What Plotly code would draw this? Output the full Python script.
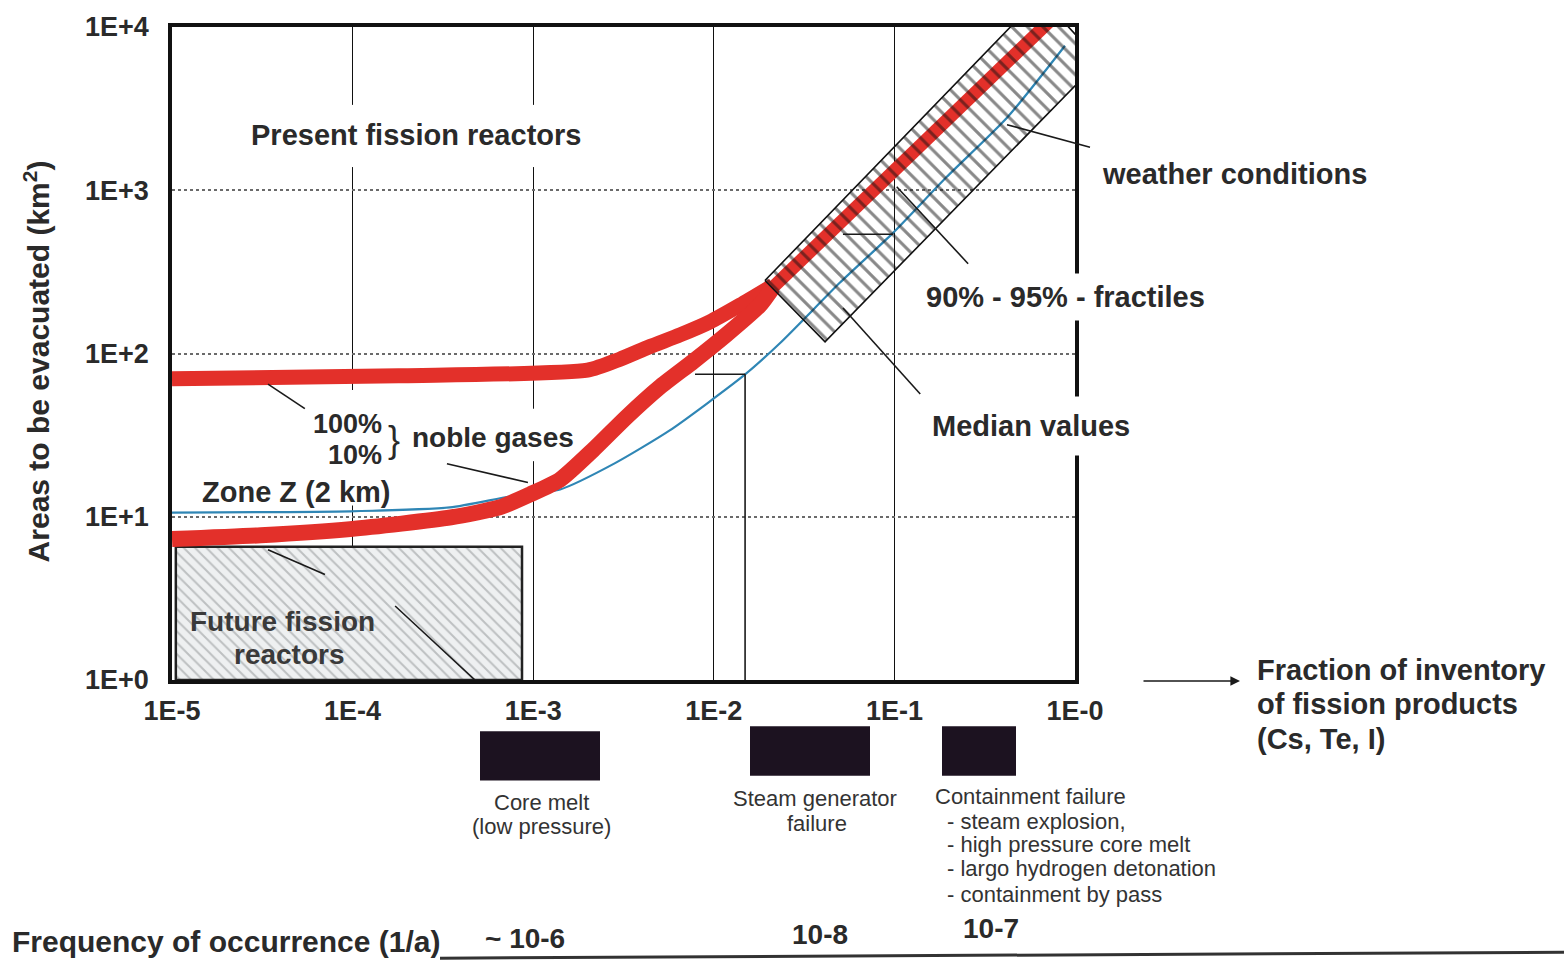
import plotly.graph_objects as go

# ---------------- data ----------------
X_TICKS = [1e-5, 1e-4, 1e-3, 1e-2, 1e-1, 1e0]
X_TICK_TEXT = ["1E-5", "1E-4", "1E-3", "1E-2", "1E-1", "1E-0"]
Y_TICKS = [1, 10, 100, 1000, 10000]
Y_TICK_TEXT = ["1E+0", "1E+1", "1E+2", "1E+3", "1E+4"]

# 100 % noble gases (upper red curve)
NOBLE100_X = [1e-5, 1.8e-4, 2.0e-3, 3.0e-3, 4.4e-3, 6.5e-3, 9.5e-3, 1.4e-2, 2.13e-2]
NOBLE100_Y = [70, 73, 79, 92, 110, 130, 156, 198, 261]

# 10 % noble gases (lower red curve)
NOBLE10_X = [1e-5, 3.1e-5, 9.7e-5, 3.5e-4, 6.5e-4, 9.6e-4, 1.41e-3, 2.14e-3,
             3.3e-3, 5.0e-3, 7.7e-3, 1.17e-2, 1.8e-2, 2.13e-2]
NOBLE10_Y = [7.3, 7.7, 8.4, 9.9, 11.4, 13.7, 16.9, 25.6, 41, 62, 89.5, 130, 198, 255]

# red line inside the weather-conditions band
UPPER_FRACTILE_X = [2.13e-2, 9.8e-2, 0.72]
UPPER_FRACTILE_Y = [255, 1300, 10800]

# Zone Z (2 km) / median values (blue)
ZONEZ_X = [1e-5, 9.7e-5, 3.46e-4, 7.4e-4, 1.41e-3, 2.84e-3, 5.7e-3, 1.45e-2,
           2.33e-2, 5.0e-2, 9.8e-2, 0.195, 0.42, 0.88]
ZONEZ_Y = [10.6, 10.8, 11.4, 13.3, 14.7, 21.3, 33.8, 72.6, 116, 272, 546, 1208, 2780, 7680]

# weather conditions band (hatched)
BAND_X = [1.92e-2, 4.13e-2, 1.37, 0.64, 1.92e-2]
BAND_Y = [280, 118, 6230, 15400, 280]

# future fission reactors box
FUTURE_X = [1.05e-5, 8.67e-4, 8.67e-4, 1.05e-5, 1.05e-5]
FUTURE_Y = [1, 1, 6.54, 6.54, 1]

# leader lines (data coords): x0, y0, x1, y1
LEADERS = [
    (3.40e-5, 65.0, 5.44e-5, 45.9),
    (3.33e-4, 21.1, 9.35e-4, 16.2),
    (3.40e-5, 6.28, 7.03e-5, 4.43),
    (1.72e-4, 2.84, 4.76e-4, 1.0),
    (7.87e-3, 74.7, 1.49e-2, 74.7),
    (1.49e-2, 74.7, 1.49e-2, 1.0),
    (5.19e-2, 538, 9.82e-2, 538),
    (0.103, 1050, 0.256, 355),
    (5.19e-2, 190, 0.139, 56.5),
]

# gaps in the gridlines (data coords): x0, x1, y0, y1
GAPS = [
    (9.1e-5, 1.1e-4, 11.7, 59.7),
    (9.1e-5, 1.1e-4, 1387, 3334),
    (9.1e-4, 1.1e-3, 1387, 3334),
    (9.1e-4, 1.1e-3, 21.9, 45.9),
]

# ---------------- layout geometry (pixels) ----------------
W, H = 1564, 966
L, R, T, B = 172, 1075, 18, 680
PW, PH = R - L, B - T


def PX(x):
    return (x - L) / PW


def PY(y):
    return (B - y) / PH


RED = "#e3302a"
BLUE = "#2f86b5"
TXT = "#2a2a2a"
FONT = "Liberation Sans, Arial, sans-serif"

fig = go.Figure()

# future fission reactors box
fig.add_trace(go.Scatter(
    x=FUTURE_X, y=FUTURE_Y, mode="lines", fill="toself",
    fillcolor="#eef0f1",
    fillpattern=dict(shape="\\", size=8, solidity=0.25, fgcolor="#8c8f92",
                     fillmode="overlay"),
    line=dict(color="#222", width=2.5), hoverinfo="skip", showlegend=False))

# blue Zone Z line
fig.add_trace(go.Scatter(
    x=ZONEZ_X, y=ZONEZ_Y, mode="lines",
    line=dict(color=BLUE, width=2.2, shape="spline", smoothing=0.6),
    hoverinfo="skip", showlegend=False))

# red noble gas curves
fig.add_trace(go.Scatter(
    x=NOBLE100_X, y=NOBLE100_Y, mode="lines",
    line=dict(color=RED, width=15, shape="spline", smoothing=0.6),
    hoverinfo="skip", showlegend=False))
fig.add_trace(go.Scatter(
    x=NOBLE10_X, y=NOBLE10_Y, mode="lines",
    line=dict(color=RED, width=16, shape="spline", smoothing=0.6),
    hoverinfo="skip", showlegend=False))
fig.add_trace(go.Scatter(
    x=UPPER_FRACTILE_X, y=UPPER_FRACTILE_Y, mode="lines",
    line=dict(color=RED, width=13),
    hoverinfo="skip", showlegend=False))

# hatched weather band
fig.add_trace(go.Scatter(
    x=BAND_X, y=BAND_Y, mode="lines", fill="toself",
    fillcolor="rgba(0,0,0,0)",
    fillpattern=dict(shape="\\", size=11, solidity=0.28, fgcolor="#111111"),
    line=dict(color="#111111", width=1.6), hoverinfo="skip", showlegend=False))

shapes = []
for x0, x1, y0, y1 in GAPS:
    shapes.append(dict(type="rect", xref="x", yref="y", x0=x0, x1=x1, y0=y0, y1=y1,
                       fillcolor="white", line=dict(width=0), layer="between"))
for x0, y0, x1, y1 in LEADERS:
    shapes.append(dict(type="line", xref="x", yref="y", x0=x0, y0=y0, x1=x1, y1=y1,
                       line=dict(color="#1a1a1a", width=1.6)))
# weather-conditions leader (crosses the frame)
shapes.append(dict(type="line", xref="paper", yref="paper",
                   x0=PX(1007), y0=PY(117), x1=PX(1090), y1=PY(140),
                   line=dict(color="#1a1a1a", width=1.6)))
# event markers below the axis
for x0, y0, x1, y1 in [(480, 732, 600, 782), (750, 727, 870, 777), (942, 727, 1016, 777)]:
    shapes.append(dict(type="rect", xref="paper", yref="paper",
                       x0=PX(x0), x1=PX(x1), y0=PY(y1), y1=PY(y0),
                       fillcolor="#1c1220", line=dict(width=0)))
# bottom rule
shapes.append(dict(type="line", xref="paper", yref="paper",
                   x0=PX(440), y0=PY(962), x1=PX(1564), y1=PY(956),
                   line=dict(color="#333", width=3)))

annotations = []


def text(t, x, y, anchor="left", size=29, bold=True, bg=None, pad=1, angle=0, color=TXT):
    d = dict(text=t, xref="paper", yref="paper", x=PX(x), y=PY(y),
             xanchor=anchor, yanchor="middle", showarrow=False, textangle=angle,
             font=dict(family=FONT, size=size, color=color,
                       weight="bold" if bold else "normal"),
             borderpad=pad)
    if bg:
        d["bgcolor"] = bg
    annotations.append(d)


text("Present fission reactors", 416, 127, "center")
text("weather conditions", 1100, 167)
text("90% - 95% - fractiles", 918, 292, bg="white", pad=7)
text("Median values", 918, 423, bg="white", pad=13)
text("100%", 384, 420, "right", size=27)
text("10%", 384, 452, "right", size=27)
text("}", 386, 436, "left", size=36, bold=False)
text("noble gases", 410, 434, size=28)
text("Zone Z (2 km)", 200, 489, size=29)
text("Future fission", 188, 621, size=28, color="#3a3a3a")
text("reactors", 289, 654, "center", size=28, color="#3a3a3a")
text("Fraction of inventory", 1255, 670)
text("of fission products", 1255, 704)
text("(Cs, Te, I)", 1255, 740)
text("Frequency of occurrence (1/a)", 10, 945, size=30)
text("~ 10-6", 483, 942, size=28)
text("10-8", 820, 938, "center", size=28)
text("10-7", 991, 932, "center", size=28)
text("Areas to be evacuated (km<sup>2</sup>)", 37, 357, "center", size=30, angle=-90)

for t, x, y, a in [
    ("Core melt", 541, 804, "center"), ("(low pressure)", 541, 829, "center"),
    ("Steam generator", 815, 800, "center"), ("failure", 817, 825, "center"),
    ("Containment failure", 933, 798, "left"), ("- steam explosion,", 945, 823, "left"),
    ("- high pressure core melt", 945, 847, "left"),
    ("- largo hydrogen detonation", 945, 871, "left"),
    ("- containment by pass", 945, 897, "left"),
]:
    text(t, x, y, a, size=22, bold=False, color="#333")

# arrow toward "Fraction of inventory"
annotations.append(dict(xref="paper", yref="paper", x=PX(1240), y=PY(681), ax=-98, ay=0,
                        text="", showarrow=True, arrowhead=2, arrowsize=1.2,
                        arrowwidth=1.6, arrowcolor="#1a1a1a"))

axis_font = dict(family=FONT, size=27, color=TXT, weight="bold")
fig.update_layout(
    width=W, height=H, autosize=False,
    margin=dict(l=L, r=W - R, t=T, b=H - B, pad=0),
    paper_bgcolor="white", plot_bgcolor="white",
    showlegend=False,
    xaxis=dict(type="log", range=[-5, 0], tickvals=X_TICKS, ticktext=X_TICK_TEXT,
               tickfont=axis_font, ticks="", ticklabelstandoff=4,
               showgrid=True, gridcolor="#111", gridwidth=1.2,
               showline=True, linecolor="#111", linewidth=3.5, mirror=True,
               zeroline=False),
    yaxis=dict(type="log", range=[0, 4], tickvals=Y_TICKS, ticktext=Y_TICK_TEXT,
               tickfont=axis_font, ticks="", ticklabelstandoff=14,
               showgrid=True, gridcolor="#6a6a6a", gridwidth=1.6, griddash="dot",
               showline=True, linecolor="#111", linewidth=3.5, mirror=True,
               zeroline=False),
    shapes=shapes,
    annotations=annotations,
)

fig.write_html("out.html")
